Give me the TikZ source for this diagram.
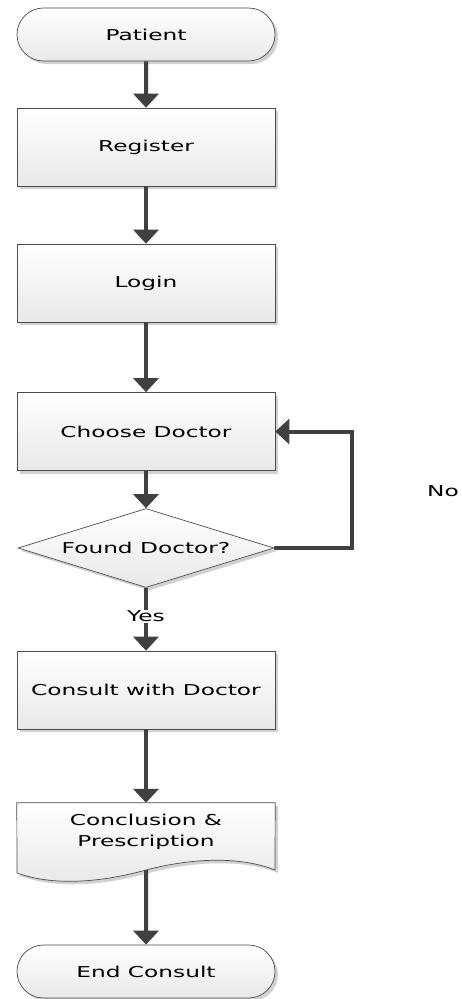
\documentclass[tikz,border=0pt]{standalone}
\usepackage{fontspec}
\newfontfamily\flowfont[FakeStretch=1.55]{DejaVu Sans}
\usetikzlibrary{shapes.geometric,shapes.misc,arrows.meta,shadows}
\begin{document}
\begin{tikzpicture}[x=1pt,y=-1pt,
 every node/.style={font=\flowfont\fontsize{15}{21}\selectfont, text=black},
 shp/.style={draw=black!70, line width=0.7pt, top color=white, bottom color=black!9,
   drop shadow={shadow xshift=3pt,shadow yshift=-3pt,fill=black!18,opacity=1}},
 proc/.style={shp, rectangle, minimum width=258pt, minimum height=78pt, inner sep=0pt},
 term/.style={shp, rounded rectangle, minimum width=258pt, minimum height=53pt, inner sep=0pt},
 dec/.style={shp, diamond, aspect=3.24, minimum width=256pt, minimum height=79pt, inner sep=0pt},
 flow/.style={draw=black!75, line width=4pt, -{Triangle[width=25pt,length=14pt]}},
 lbl/.style={inner sep=1pt},
]
\useasboundingbox (0,0) rectangle (462,999);
\fill[white] (0,0) rectangle (462,999);

\node[term] (patient) at (146,34.5) {Patient};
\node[proc] (register) at (146,147) {Register};
\node[proc] (login) at (146,283) {Login};
\node[proc] (choose) at (146,431.5) {Choose Doctor};
\node[dec] (found) at (146,548) {Found Doctor?};
\node[proc] (consult) at (146,690) {Consult with Doctor};

% document shape
\node[minimum width=258pt, minimum height=70pt, inner sep=0pt] (concl) at (146,838) {};
\begin{scope}[shift={(3,3)}]
\fill[black!18] (17,803) -- (275,803) -- (275,870)
  .. controls (245,858) and (200,856) .. (146,870)
  .. controls (95,884) and (50,885) .. (17,873) -- cycle;
\end{scope}
\path[draw=black!70, line width=0.7pt, top color=white, bottom color=black!9]
  (concl.north west) -- (concl.north east) -- (275,870)
  .. controls (245,858) and (200,856) .. (146,870)
  .. controls (95,884) and (50,885) .. (17,873) -- cycle;
\node[align=center, inner sep=0pt] (concltext) at (146,832) {Conclusion \&\\Prescription};

\node[term] (endc) at (146,971.5) {End Consult};

\draw[flow] (patient) -- (register);
\draw[flow] (register) -- (login);
\draw[flow] (login) -- (choose);
\draw[flow] (choose) -- (found);
\draw[flow] (found) -- (consult) node[pos=0.45, fill=white, lbl] (yes) {Yes};
\draw[flow] (consult) -- (concl.north);
\coordinate (conclbot) at (146,870);
\draw[flow] (conclbot) -- (endc);
\coordinate (loopc) at (352,548);
\draw[flow] (found.east) -- (loopc) |- (choose.east);
\node[inner sep=1pt] (no) at (443,491) {No};
\end{tikzpicture}
\end{document}
